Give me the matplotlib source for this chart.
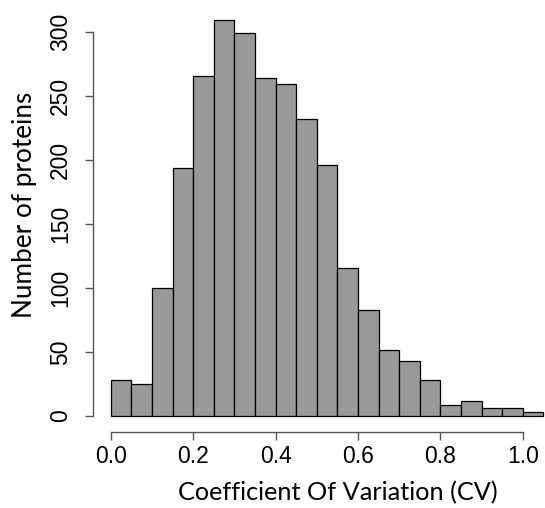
import numpy as np
import matplotlib
matplotlib.use("Agg")
import matplotlib.pyplot as plt

# histogram counts, bins of width 0.05 starting at 0
bin_width = 0.05
counts = [28, 25, 100, 194, 266, 309, 299, 264, 259, 232, 196,
          116, 83, 52, 43, 28, 9, 12, 6, 6, 3]
x_ticks = [0.0, 0.2, 0.4, 0.6, 0.8, 1.0]
y_ticks = [0, 50, 100, 150, 200, 250, 300]

left_edges = np.arange(len(counts)) * bin_width

W, H = 545, 508
fig = plt.figure(figsize=(W / 100, H / 100), dpi=100)
ax = fig.add_axes([93.4 / W, (H - 432) / H, (W - 93.4) / W, (432 - 3.3) / H])

ax.bar(left_edges, counts, width=bin_width, align="edge",
       color="#999999", edgecolor="black", linewidth=0.9)

ax.set_xlim(-0.042, 1.054)
ax.set_ylim(-12.4, 322.4)

for s in ["top", "right"]:
    ax.spines[s].set_visible(False)
ax.spines["left"].set_bounds(0, 300)
ax.spines["bottom"].set_bounds(0, 1.0)
for s in ["left", "bottom"]:
    ax.spines[s].set_color("#555555")
    ax.spines[s].set_linewidth(1.0)

ax.set_xticks(x_ticks)
ax.set_xticklabels([f"{v:.1f}" for v in x_ticks])
ax.set_yticks(y_ticks)
ax.set_yticklabels([str(v) for v in y_ticks], rotation=90, va="center")

ax.tick_params(axis="both", length=5.8, width=1.0, color="#555555",
               labelsize=16.5)
ax.tick_params(axis="x", pad=3.4)
ax.tick_params(axis="y", pad=9.4)
for lab in ax.get_xticklabels() + ax.get_yticklabels():
    lab.set_fontfamily("Liberation Sans")

fig.text(338 / W, 1 - 493 / H, "Coefficient Of Variation (CV)",
         ha="center", va="center", family="Lato", size=18.2)
fig.text(25 / W, 1 - 205 / H, "Number of proteins", rotation=90,
         ha="center", va="center", family="Lato", size=18.8)

fig.savefig("out.png", dpi=100)
